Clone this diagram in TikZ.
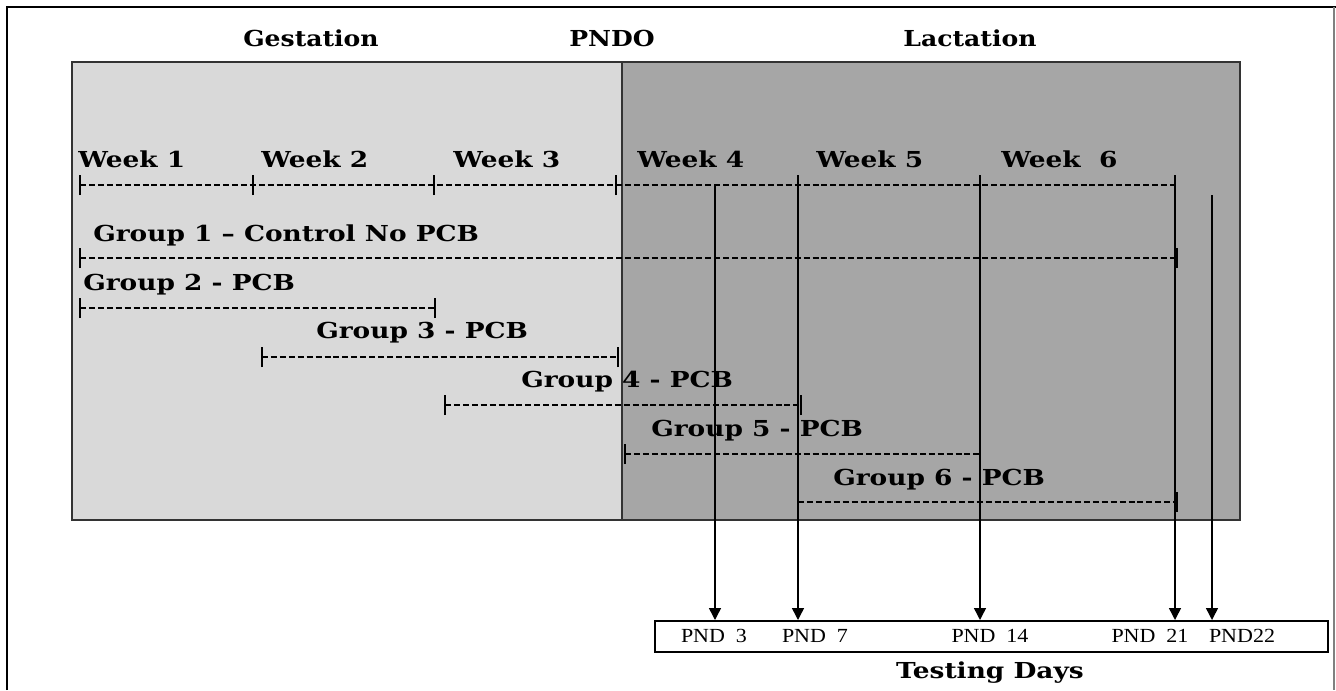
\documentclass[tikz,border=0pt]{standalone}
\usepackage{fontspec}
\setmainfont{Liberation Serif}
\newfontfamily\bsf[FakeStretch=1.2]{DejaVu Serif}
\newfontfamily\rsf[FakeStretch=1.1]{Liberation Serif}
\usetikzlibrary{arrows.meta}
\definecolor{lightg}{HTML}{D9D9D9}
\definecolor{darkg}{HTML}{A6A6A6}
\begin{document}
\begin{tikzpicture}[x=0.75pt,y=-0.75pt,
  lbl/.style={font=\bsf\bfseries\fontsize{16.5}{19}\selectfont, inner sep=0, anchor=base west},
  hdr/.style={font=\bsf\bfseries\fontsize{16.5}{19}\selectfont, inner sep=0},
  pnd/.style={font=\rsf\fontsize{15}{18}\selectfont, inner sep=0},
  dline/.style={line width=1.3pt, dash pattern=on 4.5pt off 2.2pt},
  tick/.style={line width=1.6pt},
  arr/.style={line width=1.1pt, -{Triangle[width=9pt,length=9pt]}}]
\useasboundingbox (0,0) rectangle (1336,690);
% outer frame
\draw[line width=2.2pt] (7,690) -- (7,7) -- (1336,7);
\draw[gray, line width=1pt] (1334,7) -- (1334,690);
% main panels
\fill[lightg] (72,62) rectangle (622,520);
\fill[darkg] (622,62) rectangle (1240,520);
\draw[line width=1.2pt, black!80] (72,62) rectangle (1240,520);
\draw[line width=1.2pt, black!80] (622,62) -- (622,520);
% headers
\node[hdr, xscale=0.95] (gest) at (311,38) {Gestation};
\node[hdr, xscale=0.95] (pndo) at (612,38) {PNDO};
\node[hdr, xscale=0.95] (lact) at (970,38) {Lactation};
% weeks
\node[lbl] (w1) at (78,167) {Week 1};
\node[lbl] (w2) at (261,167) {Week 2};
\node[lbl] (w3) at (453,167) {Week 3};
\node[lbl] (w4) at (637,167) {Week 4};
\node[lbl] (w5) at (816,167) {Week 5};
\node[lbl] (w6) at (1001,167) {Week\ \ 6};
\coordinate (t0) at (80,185);
\coordinate (t1) at (253,185);
\coordinate (t2) at (434,185);
\coordinate (t3) at (616,185);
\coordinate (t4) at (798,185);
\coordinate (t5) at (980,185);
\coordinate (t6) at (1175,185);
\draw[dline] (t0) -- (t6);
\foreach \t in {t0,t1,t2,t3,t4,t5,t6}{\draw[tick] ([yshift=-7.5]\t) -- ([yshift=7.5]\t);}
% groups
\node[lbl] (g1) at (93,241) {Group 1 – Control No PCB};
\node[lbl] (g2) at (83,290) {Group 2 - PCB};
\node[lbl] (g3) at (316,338) {Group 3 - PCB};
\node[lbl] (g4) at (521,387) {Group 4 - PCB};
\node[lbl] (g5) at (651,436) {Group 5 - PCB};
\node[lbl] (g6) at (833,485) {Group 6 - PCB};
\coordinate (g1a) at (80,258);  \coordinate (g1b) at (1177,258);
\coordinate (g2a) at (80,308);  \coordinate (g2b) at (435,308);
\coordinate (g3a) at (262,357); \coordinate (g3b) at (618,357);
\coordinate (g4a) at (445,405); \coordinate (g4b) at (801,405);
\coordinate (g5a) at (625,454); \coordinate (g5b) at (980,454);
\coordinate (g6a) at (798,502); \coordinate (g6b) at (1177,502);
\foreach \g in {g1,g2,g3,g4,g5,g6}{
  \draw[dline] (\g a) -- (\g b);
  \draw[tick] ([yshift=-7.5]\g a) -- ([yshift=7.5]\g a);
  \draw[tick] ([yshift=-7.5]\g b) -- ([yshift=7.5]\g b);
}
% testing box
\node[draw, line width=1.2pt, minimum width=673*0.75pt, minimum height=31*0.75pt, inner sep=0, anchor=north west] (tb) at (654,620) {};
\node[pnd] (p3) at (714,636) {PND\ \ 3};
\node[pnd] (p7) at (815,636) {PND\ \ 7};
\node[pnd] (p14) at (990,636) {PND\ \ 14};
\node[pnd] (p21) at (1150,636) {PND\ \ 21};
\node[pnd] (p22) at (1242,636) {PND22};
\node[hdr] (td) at (990,673) {Testing Days};
% arrows
\coordinate (a3) at (715,185);
\coordinate (a22) at (1212,195);
\draw[arr] (a3) -- (a3 |- tb.north);
\draw[arr] (t4) -- (t4 |- tb.north);
\draw[arr] (t5) -- (t5 |- tb.north);
\draw[arr] (t6) -- (t6 |- tb.north);
\draw[arr] (a22) -- (a22 |- tb.north);
\end{tikzpicture}
\end{document}
